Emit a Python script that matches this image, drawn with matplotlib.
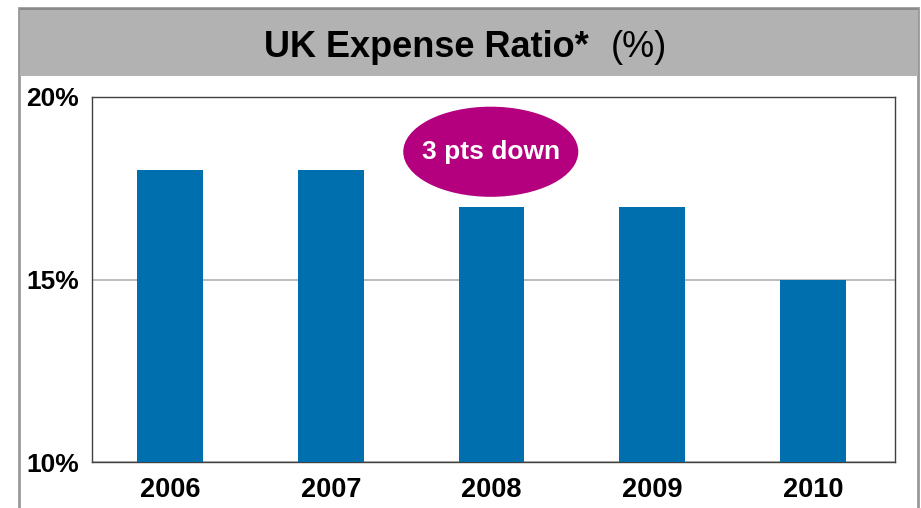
import matplotlib
matplotlib.use("Agg")
import matplotlib.pyplot as plt
from matplotlib.patches import Rectangle, Ellipse

plt.rcParams['font.family'] = ['Liberation Sans', 'DejaVu Sans']

years = ["2006", "2007", "2008", "2009", "2010"]
ratios = [18, 18, 17, 17, 15]
y_ticks = [10, 15, 20]
y_tick_labels = ["10%", "15%", "20%"]
title_bold = "UK Expense Ratio*"
title_regular = "(%)"
callout = "3 pts down"

W, H = 921, 508
fig = plt.figure(figsize=(W / 100, H / 100), dpi=100)
fig.patch.set_facecolor("white")

def fx(px):
    return px / W

def fy(py):
    return 1 - py / H

# outer frame and title bar
fig.patches.append(Rectangle((fx(19), fy(H + 5)), fx(918) - fx(19), fy(8) - fy(H + 5),
                             transform=fig.transFigure, facecolor="white",
                             edgecolor="#999999", linewidth=2, zorder=0))
fig.patches.append(Rectangle((fx(20), fy(76)), fx(918) - fx(20), fy(9) - fy(76),
                             transform=fig.transFigure, facecolor="#b2b2b2",
                             edgecolor="none", zorder=1))
fig.patches.append(Rectangle((fx(20), fy(10)), fx(918) - fx(20), fy(8) - fy(10),
                             transform=fig.transFigure, facecolor="#8a8a8a",
                             edgecolor="none", zorder=2))

fig.text(fx(589), fy(57), title_bold, ha="right", va="baseline",
         fontsize=26, fontweight="bold", color="black", zorder=10)
fig.text(fx(611), fy(57), title_regular, ha="left", va="baseline",
         fontsize=26, color="black", zorder=10)

ax = fig.add_axes([fx(92), fy(462), fx(895) - fx(92), fy(97) - fy(462)])
ax.set_zorder(5)
x = range(len(years))
ax.bar(x, ratios, width=0.41, color="#006fae", zorder=3)
ax.set_xlim(-0.488, len(years) - 0.488)
ax.set_ylim(10, 20)
ax.set_yticks(y_ticks)
ax.set_yticklabels(y_tick_labels, fontsize=19, fontweight="bold")
ax.set_xticks(list(x))
ax.set_xticklabels(years, fontsize=19.5, fontweight="bold")
ax.tick_params(axis="both", length=0)
ax.tick_params(axis="y", pad=9.5)
ax.tick_params(axis="x", pad=10.5)
ax.yaxis.grid(True, color="#b0b0b0", linewidth=1.2, zorder=1)
ax.set_axisbelow(True)
for s in ax.spines.values():
    s.set_color("#404040")
    s.set_linewidth(1.0)

ell = Ellipse((1.995, 18.5), 1.09, 2.47, facecolor="#b4007f", edgecolor="none",
              zorder=5, clip_on=False)
ax.add_patch(ell)
ax.text(1.995, 18.5, callout, ha="center", va="center", color="white",
        fontsize=19, fontweight="bold", zorder=6)

fig.savefig("out.png", dpi=100)
